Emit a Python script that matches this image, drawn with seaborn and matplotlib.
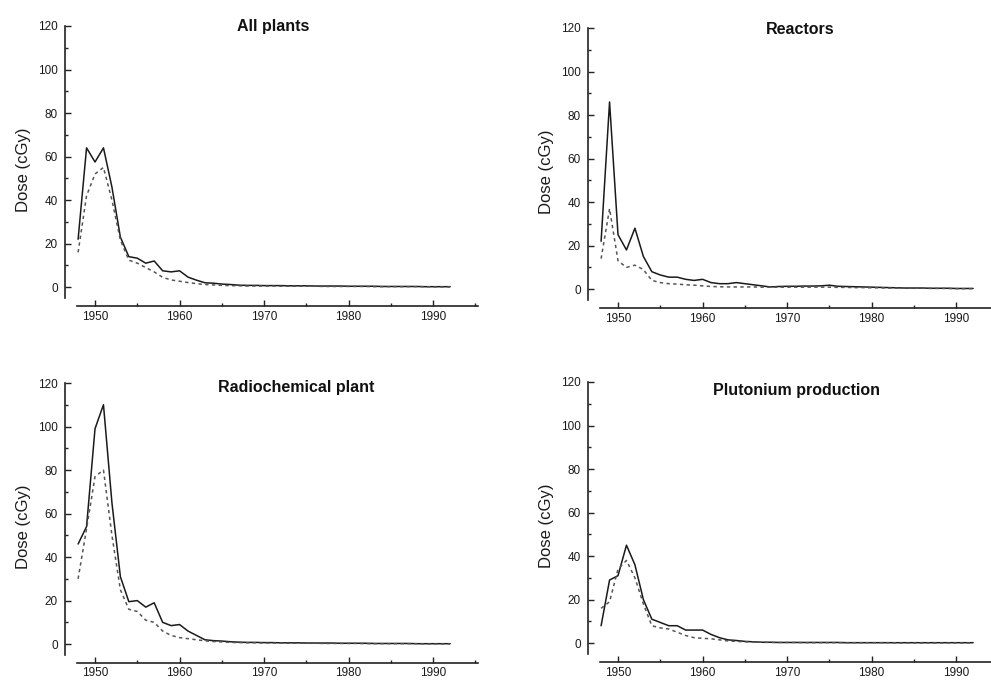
import numpy as np
import matplotlib
matplotlib.use("Agg")
import matplotlib.pyplot as plt
from matplotlib.ticker import MultipleLocator
import seaborn as sns

sns.set_theme(style="ticks")
plt.rcParams['font.family'] = ['Liberation Sans', 'DejaVu Sans']

years = list(range(1948, 1993))

# all plants
all_solid = [22, 64, 57.5, 64, 46, 23, 14, 13.3, 11, 12, 7.5, 7, 7.5, 4.6, 3.2, 2, 1.8, 1.4, 1.2, 0.9,
             0.8, 0.8, 0.7, 0.7, 0.7, 0.6, 0.6, 0.6, 0.5, 0.5, 0.5, 0.5, 0.4, 0.4, 0.4, 0.4, 0.3, 0.3,
             0.3, 0.3, 0.3, 0.2, 0.2, 0.2, 0.2]
all_dashed = [16, 42, 52, 55, 40, 21.6, 12.4, 11, 9, 7, 4.5, 3.3, 2.7, 2.1, 1.6, 1.2, 1, 0.8, 0.7, 0.6,
              0.5, 0.5, 0.5, 0.5, 0.4, 0.4, 0.4, 0.4, 0.4, 0.3, 0.3, 0.3, 0.3, 0.3, 0.3, 0.2, 0.2, 0.2,
              0.2, 0.2, 0.2, 0.2, 0.1, 0.1, 0.1]

# reactors
reac_solid = [22, 86, 25, 18, 28, 15, 8, 6.5, 5.5, 5.5, 4.5, 4, 4.5, 3, 2.5, 2.5, 3, 2.5, 2, 1.5,
              1, 1.2, 1.3, 1.3, 1.4, 1.4, 1.5, 1.8, 1.3, 1.2, 1.1, 1, 0.9, 0.8, 0.7, 0.6, 0.5, 0.5,
              0.5, 0.4, 0.4, 0.4, 0.3, 0.3, 0.3]
reac_dashed = [14, 37, 13, 10, 11, 9, 4, 3, 2.5, 2.3, 2, 1.8, 1.5, 1.2, 1.1, 1, 1, 1, 1, 0.9,
               0.9, 0.9, 0.9, 0.9, 0.9, 0.9, 0.9, 0.9, 0.8, 0.8, 0.7, 0.7, 0.6, 0.6, 0.5, 0.5, 0.4, 0.4,
               0.4, 0.3, 0.3, 0.3, 0.2, 0.2, 0.2]

# radiochemical plant
radio_solid = [46, 54, 99, 110, 65, 31, 19.5, 20, 17, 19, 10, 8.5, 9, 6, 4, 2, 1.6, 1.4, 1.1, 0.9,
               0.8, 0.8, 0.7, 0.7, 0.6, 0.6, 0.6, 0.5, 0.5, 0.5, 0.5, 0.4, 0.4, 0.4, 0.4, 0.3, 0.3, 0.3,
               0.3, 0.3, 0.2, 0.2, 0.2, 0.2, 0.2]
radio_dashed = [30, 53, 77, 80, 50, 25, 16, 15, 11, 10, 6, 4, 3, 2.5, 2, 1.5, 1.2, 1, 0.8, 0.7,
                0.6, 0.6, 0.5, 0.5, 0.5, 0.4, 0.4, 0.4, 0.4, 0.3, 0.3, 0.3, 0.3, 0.3, 0.2, 0.2, 0.2, 0.2,
                0.2, 0.2, 0.2, 0.1, 0.1, 0.1, 0.1]

# plutonium production
plut_solid = [8, 29, 31, 45, 36, 20, 11, 9.5, 8, 8, 6, 6, 6, 4, 2.5, 1.5, 1.2, 0.8, 0.6, 0.4,
              0.4, 0.3, 0.3, 0.3, 0.3, 0.3, 0.3, 0.3, 0.3, 0.2, 0.2, 0.2, 0.2, 0.2, 0.2, 0.2, 0.2, 0.2,
              0.2, 0.2, 0.2, 0.2, 0.2, 0.2, 0.2]
plut_dashed = [16, 19, 34, 38, 30, 18, 8, 7, 6.5, 5, 3.5, 2.5, 2.2, 2, 1.5, 1, 0.8, 0.6, 0.5, 0.4,
               0.3, 0.3, 0.3, 0.3, 0.2, 0.2, 0.2, 0.2, 0.2, 0.2, 0.2, 0.2, 0.2, 0.2, 0.2, 0.1, 0.1, 0.1,
               0.1, 0.1, 0.1, 0.1, 0.1, 0.1, 0.1]

titles = ["All plants", "Reactors", "Radiochemical plant", "Plutonium production"]

W, H = 991, 680
fig = plt.figure(figsize=(W / 100, H / 100), dpi=100)

# (left px, bottom px of ylim -5, title x, title y) per panel
panels = [
    (65, 298, 0.505, 1.0, all_solid, all_dashed),
    (588, 300, 0.513, 0.995, reac_solid, reac_dashed),
    (65, 655, 0.56, 0.985, radio_solid, radio_dashed),
    (588, 654, 0.506, 0.97, plut_solid, plut_dashed),
]

for (lpx, bpx, tx, ty, solid, dashed), title in zip(panels, titles):
    ax = fig.add_axes([lpx / W, (H - bpx) / H, 413 / W, 272 / H])
    sns.lineplot(x=years, y=solid, ax=ax, color="#1a1a1a", lw=1.1)
    sns.lineplot(x=years, y=dashed, ax=ax, color="#555555", lw=1.1, linestyle=(0, (2.2, 2.2)))
    ax.set_xlim(1946.45, 1995.3)
    ax.set_ylim(-5, 120)
    for s in ["top", "right"]:
        ax.spines[s].set_visible(False)
    ax.spines["bottom"].set_bounds(1947.9, 1995.3)
    ax.spines["bottom"].set_position(("outward", 6))
    for s in ["left", "bottom"]:
        ax.spines[s].set_linewidth(1.2)
        ax.spines[s].set_color("#222222")
    ax.xaxis.set_major_locator(MultipleLocator(10))
    ax.xaxis.set_minor_locator(MultipleLocator(5))
    ax.yaxis.set_major_locator(MultipleLocator(20))
    ax.yaxis.set_minor_locator(MultipleLocator(10))
    ax.tick_params(axis="both", which="major", direction="in", length=4, width=1,
                   labelsize=8.5, color="#222222", labelcolor="#1a1a1a")
    ax.tick_params(axis="both", which="minor", direction="in", length=2, width=1, color="#222222")
    ax.tick_params(axis="y", which="major", pad=5)
    ax.tick_params(axis="x", which="major", pad=3)
    ax.set_ylabel("Dose (cGy)", fontsize=12, color="#1a1a1a")
    ax.yaxis.set_label_coords(-0.082, 0.47)
    ax.set_xlabel("")
    ax.text(tx, ty, title, transform=ax.transAxes, ha="center", va="center",
            fontsize=11.5, fontweight="bold", color="#111111")

fig.savefig("out.png", dpi=100)
